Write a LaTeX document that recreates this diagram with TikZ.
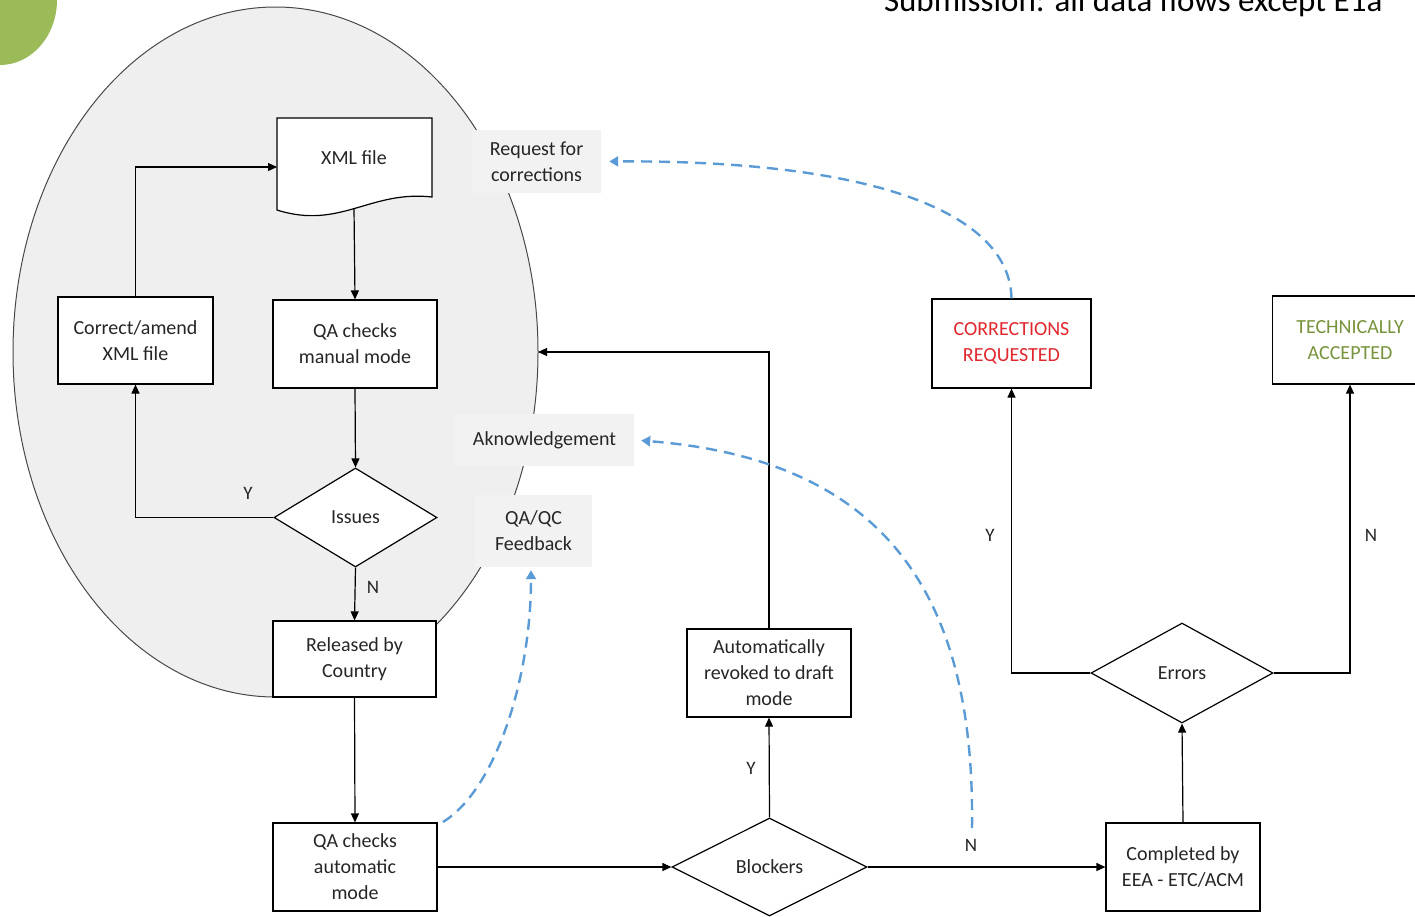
\documentclass[tikz,border=0pt]{standalone}
\usepackage{fontspec}
\setmainfont{Carlito}
\usetikzlibrary{arrows.meta,shapes.geometric}
\definecolor{ellgray}{HTML}{EFEFEF}
\definecolor{lblgray}{HTML}{F2F2F2}
\definecolor{txtgray}{HTML}{262626}
\definecolor{fbblue}{HTML}{5B9BD5}
\definecolor{leafgreen}{HTML}{9BBB59}
\definecolor{corred}{HTML}{E0282E}
\definecolor{accgreen}{HTML}{77933C}
\begin{document}
\begin{tikzpicture}[x=1pt,y=-1pt,
  every node/.style={font=\fontsize{20}{26}\selectfont,text=txtgray,align=center},
  box/.style={draw=black,fill=white,line width=1.2pt,inner sep=0pt},
  dec/.style={diamond,draw=black,fill=white,line width=1.2pt,inner sep=0pt,aspect=1.7},
  lbl/.style={fill=lblgray,inner sep=0pt},
  flow/.style={line width=1.2pt,-{Triangle[length=9pt,width=8pt]}},
  fb/.style={fbblue,line width=2.4pt,dash pattern=on 11pt off 7pt,-{Triangle[length=9pt,width=10pt]}},
  yn/.style={font=\fontsize{19}{22}\selectfont}]
\useasboundingbox (0,0) rectangle (1415,916);
\clip (0,0) rectangle (1415,916);
\fill[leafgreen] (0,0) ellipse [x radius=57, y radius=65];
\node[anchor=base east,font=\fontsize{33}{36}\selectfont,text=black] (title) at (1386,11) {Submission: all data flows except E1a};
\draw[ellgray!30!black,fill=ellgray,line width=1pt] (275.5,352) ellipse [x radius=262.5, y radius=345];
\coordinate (ellE) at (538,352);
% country side
\draw[box] (277,118) -- (432,118) -- (432,197) .. controls (370,190) and (340,230) .. (277,210) -- cycle;
\node (xmlf) at (354,158) {XML file};
\coordinate (xmlin) at (277,167);
\coordinate (xmlb) at (354,208);
\node[box,minimum width=155pt,minimum height=87pt] (amend) at (135.5,340.5) {Correct/amend\\XML file};
\node[box,minimum width=164pt,minimum height=88pt] (qaman) at (355,344) {QA checks\\manual mode};
\node[dec,minimum width=163pt,minimum height=99pt] (issues) at (355.5,517.5) {Issues};
\node[box,minimum width=163pt,minimum height=76pt] (released) at (354.5,659) {Released by\\Country};
\node[box,minimum width=164pt,minimum height=88pt] (qaauto) at (355,867) {QA checks\\automatic\\mode};
% EEA side
\node[dec,minimum width=195pt,minimum height=98pt] (blockers) at (769.5,867) {Blockers};
\node[box,minimum width=164pt,minimum height=88pt] (revoked) at (769,673) {Automatically\\revoked to draft\\mode};
\node[box,minimum width=154pt,minimum height=88pt] (completed) at (1183,867) {Completed by\\EEA - ETC/ACM};
\node[dec,minimum width=182pt,minimum height=100pt] (errors) at (1182,673) {Errors};
\node[box,minimum width=159pt,minimum height=89pt,text=corred] (correq) at (1011.5,343.5) {CORRECTIONS\\REQUESTED};
\node[box,minimum width=155pt,minimum height=88pt,text=accgreen] (techacc) at (1350,340) {TECHNICALLY\\ACCEPTED};
% connectors
\draw[flow] (amend.north) |- (xmlin);
\draw[flow] (xmlb) -- (qaman.north);
\draw[flow] (qaman.south) -- (issues.north);
\draw[flow] (issues.west) -| (amend.south);
\draw[flow] (issues.south) -- (released.north);
\draw[flow] (released.south) -- (qaauto.north);
\draw[flow] (qaauto.east) -- (blockers.west);
\draw[flow] (blockers.north) -- (revoked.south);
\draw[flow] (revoked.north) |- (ellE);
\draw[flow] (blockers.east) -- (completed.west);
\draw[flow] (completed.north) -- (errors.south);
\draw[flow] (errors.west) -| (correq.south);
\draw[flow] (errors.east) -| (techacc.south);
\node[yn] (y1) at (248,493) {Y};
\node[yn] (n1) at (373,587) {N};
\node[yn] (y2) at (751,768) {Y};
\node[yn] (n2) at (971,845) {N};
\node[yn] (y3) at (990,535) {Y};
\node[yn] (n3) at (1371,535) {N};
% feedback labels
\node[lbl,minimum width=129pt,minimum height=63pt] (reqcorr) at (536.5,161.5) {Request for\\corrections};
\node[lbl,minimum width=179pt,minimum height=52pt] (ackn) at (544.5,440) {Aknowledgement};
\node[lbl,minimum width=117pt,minimum height=72pt] (qaqc) at (533.5,531) {QA/QC\\Feedback};
\coordinate (ackstart) at (972,828);
\coordinate (fbstart) at (443,822);
\draw[fb,shorten >=8pt] (correq.north) .. controls (1010,215) and (880,160) .. (reqcorr.east);
\draw[fb,shorten >=7pt] (ackstart) .. controls (975,600) and (890,460) .. (ackn.east);
\draw[fb,shorten >=3pt] (fbstart) .. controls (495,790) and (531,680) .. (qaqc.south -| 531,567);
\end{tikzpicture}
\end{document}
